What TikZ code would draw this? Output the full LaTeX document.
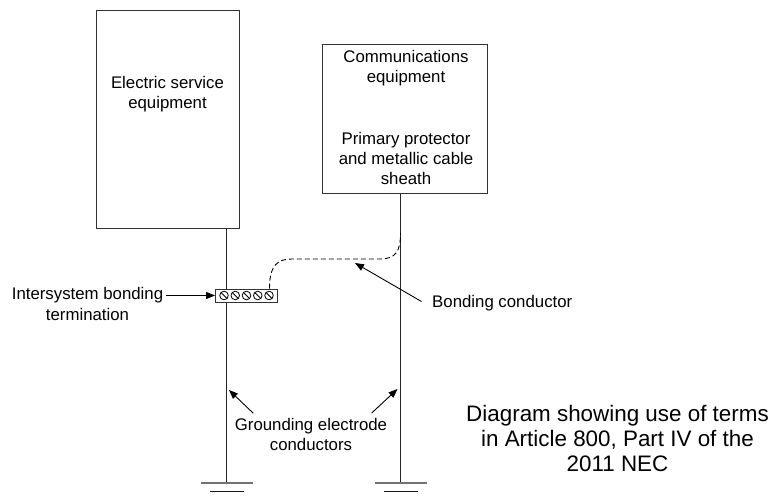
\documentclass[tikz,border=0pt]{standalone}
\usepackage{fontspec}
\setmainfont{Liberation Sans}
\usetikzlibrary{arrows.meta}
\begin{document}
\begin{tikzpicture}[x=1bp,y=-1bp,
  wire/.style={line width=0.9bp, draw=black!85},
  box/.style={draw=black!80, line width=0.9bp, inner sep=0pt, fill=white},
  lbl/.style={font=\fontsize{16.8bp}{20bp}\selectfont, align=center, inner sep=0pt, anchor=base},
  captext/.style={font=\fontsize{22.4bp}{25bp}\selectfont, align=center, inner sep=0pt, anchor=base},
  pointer/.style={line width=0.9bp, -{Triangle[length=9bp,width=7bp]}},
  gbar/.style={line width=1.4bp, draw=black!55},
  gbarlow/.style={line width=1.2bp, draw=black!90},
  screw/.style={draw=black, line width=0.8bp},
  bond/.style={line width=0.9bp, dash pattern=on 5bp off 3bp}
]
\path[use as bounding box] (0,0) rectangle (774,499);

% equipment enclosures
\node[box, minimum width=143bp, minimum height=218bp, anchor=north west] (ese) at (96,10) {};
\node[box, minimum width=165bp, minimum height=149bp, anchor=north west] (comm) at (322,44) {};

% multi-line labels are placed by the baseline of their last line
\node[lbl] (eselbl) at (167.5,109) {Electric service\\equipment};
\node[lbl] (commlbl) at (406,83) {Communications\\equipment};
\node[lbl] (pplbl) at (406,185) {Primary protector\\and metallic cable\\sheath};

% grounding electrode conductors
\coordinate (gndL) at (226.5,483);
\coordinate (gndR) at (400.5,483);
\draw[wire] (gndL |- ese.south) -- (gndL);
\draw[wire] (gndR |- comm.south) -- (gndR);

% ground symbols
\foreach \g in {gndL,gndR}{
  \draw[gbar] ([xshift=-26bp]\g) -- ([xshift=26bp]\g);
  \draw[gbarlow] ([xshift=-17bp,yshift=-8.5bp]\g) -- ([xshift=17bp,yshift=-8.5bp]\g);
}

% intersystem bonding termination with five screws
\node[box, minimum width=62bp, minimum height=13bp] (tb) at (246.5,295.5) {};
\foreach \i in {-2,...,2}{
  \draw[screw] ([xshift=\i*11.25bp]tb.center) circle[radius=4.3bp];
  \draw[screw] ([xshift=\i*11.25bp-3bp,yshift=3bp]tb.center) -- ([xshift=\i*11.25bp+3bp,yshift=-3bp]tb.center);
}

% bonding conductor (dashed)
\coordinate (bondtop) at (400.5,233);
\draw[bond] ([xshift=23bp]tb.north) .. controls +(0,-24) and +(-14,0) .. (292,259)
  -- (380,259) .. controls +(16,0) and +(0,18) .. (bondtop);

% labels and pointers
\node[lbl] (isblbl) at (87.5,320) {Intersystem bonding\\termination};
\coordinate (isbfrom) at (165.5,295.5);
\draw[pointer] (isbfrom) -- (tb.west);

\node[lbl, anchor=base west] (bclbl) at (432,308) {Bonding conductor};
\coordinate (bcfrom) at (421.5,301.5);
\coordinate (bctip) at (355,263);
\draw[pointer] (bcfrom) -- (bctip);

\node[lbl] (gelbl) at (311,450) {Grounding electrode\\conductors};
\coordinate (geLfrom) at (253.3,413.3);
\coordinate (geLtip) at (229,390);
\coordinate (geRfrom) at (371.7,413);
\coordinate (geRtip) at (397.5,389);
\draw[pointer] (geLfrom) -- (geLtip);
\draw[pointer] (geRfrom) -- (geRtip);

\node[captext] (caption) at (617.5,471) {Diagram showing use of terms\\in Article 800, Part IV of the\\2011 NEC};
\end{tikzpicture}
\end{document}
